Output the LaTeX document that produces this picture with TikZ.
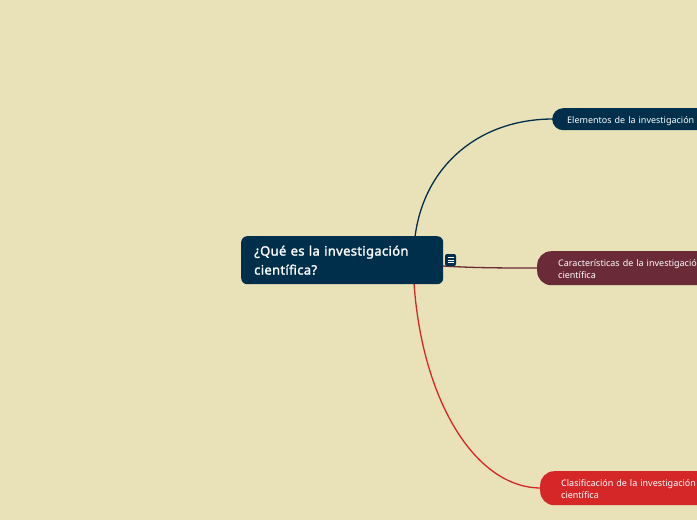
\documentclass[tikz,border=0pt]{standalone}
\usepackage{fontspec}
\setmainfont{Noto Sans}
\newfontfamily\rootfont{Noto Sans}[FakeBold=1.6,LetterSpace=2.5]
\newcommand{\dnline}[1]{\raisebox{-1.3pt}[8pt][2pt]{#1}}
\definecolor{bgc}{HTML}{E9E1B8}
\definecolor{navy}{HTML}{002F4B}
\definecolor{wine}{HTML}{6B2A38}
\definecolor{redc}{HTML}{D62728}
\tikzset{
  x=1pt,y=-1pt,
  rootbox/.style={fill=navy,text=white,rounded corners=6pt,minimum width=202pt,minimum height=48pt,inner xsep=13pt,inner ysep=0pt,anchor=north west,font=\fontsize{13}{19}\rootfont,align=left,text width=176pt},
  topicbox/.style={rounded corners=#1,text=white,inner ysep=0pt,anchor=north west,font=\fontsize{9}{12}\selectfont,align=left},
  link/.style={line width=1.3pt},
}
\begin{document}
\begin{tikzpicture}
\clip (0,0) rectangle (697,520);
\useasboundingbox (0,0) rectangle (697,520);
\fill[bgc] (0,0) rectangle (697,520);
\coordinate (r1) at (415,237);
\coordinate (r2) at (443,266);
\coordinate (r3) at (414,283);
\coordinate (e1) at (553,119);
\coordinate (e2) at (538,268);
\coordinate (e3) at (541,488);
\draw[link,navy] (r1) .. controls (424,165) and (480,119) .. (e1);
\draw[link,wine] (r2) .. controls (475,268) and (505,268) .. (e2);
\draw[link,redc] (r3) .. controls (422,400) and (475,488) .. (e3);
\node[rootbox] (root) at (241,236) {¿Qué es la investigación\\científica?};
\node[topicbox=11pt,fill=navy,inner xsep=15pt,text width=205pt,minimum height=22pt] (n1) at (552,108) {\dnline{Elementos de la investigación científica}};
\node[topicbox=14pt,fill=wine,inner xsep=21pt,text width=199pt,minimum height=34pt] (n2) at (537,251) {\dnline{Características de la investigación}\\\dnline{científica}};
\node[topicbox=14pt,fill=redc,inner xsep=21pt,text width=199pt,minimum height=34pt] (n3) at (540,471) {\dnline{Clasificación de la investigación}\\\dnline{científica}};
\node[fill=navy,rounded corners=2pt,minimum width=11pt,minimum height=12pt,inner sep=0pt] (icon) at (450.5,260) {};
\foreach \yy in {257.5,260,262.5}{\draw[white,line width=0.8pt] (447.5,\yy) -- (453.5,\yy);}
\end{tikzpicture}
\end{document}
